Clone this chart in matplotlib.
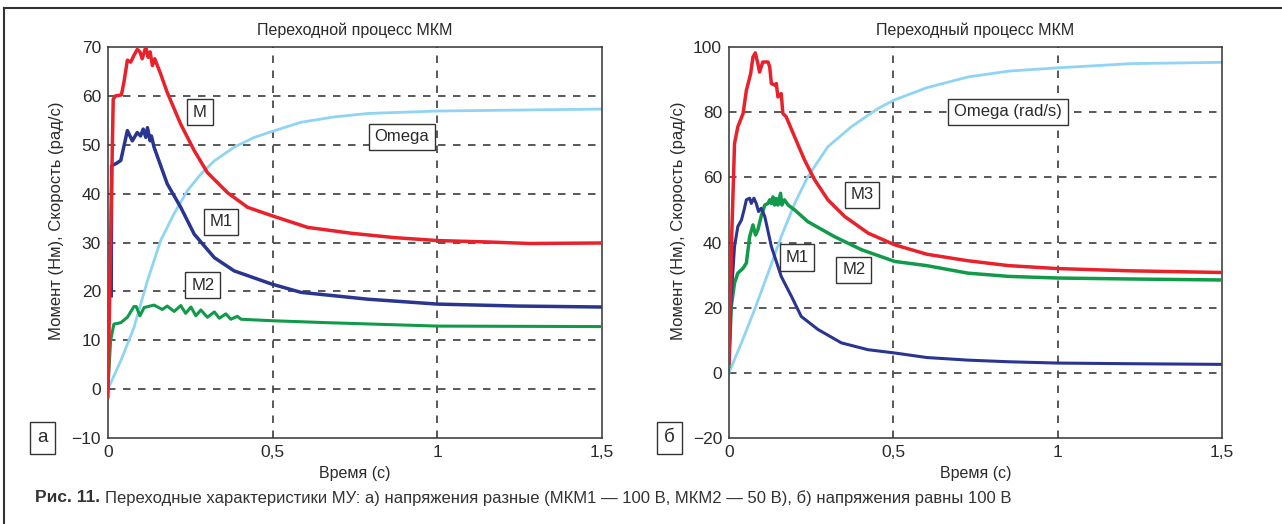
import matplotlib
matplotlib.use("Agg")
import matplotlib.pyplot as plt
from matplotlib.lines import Line2D

plt.rcParams['font.family'] = ['Liberation Sans', 'DejaVu Sans']

# ---------------- data: left panel (a) ----------------
t_a_M = [0, 0.008, 0.016, 0.023, 0.041, 0.049, 0.059, 0.069, 0.079, 0.089, 0.097, 0.104, 0.115, 0.122,
         0.128, 0.135, 0.142, 0.160, 0.180, 0.221, 0.262, 0.302, 0.363, 0.424, 0.497, 0.606, 0.738,
         0.870, 1.0, 1.158, 1.28, 1.5]
v_a_M = [-1.5, 30.0, 59.3, 60.0, 60.2, 63.0, 67.3, 66.9, 68.3, 69.5, 69.0, 67.6, 70.0, 67.9,
         69.0, 66.2, 67.6, 64.5, 60.7, 54.2, 48.8, 44.3, 40.2, 37.2, 35.5, 33.1, 31.9,
         31.0, 30.4, 30.1, 29.8, 29.9]

t_a_M1 = [0.010, 0.011, 0.026, 0.039, 0.059, 0.074, 0.089, 0.099, 0.107, 0.115, 0.120, 0.128, 0.132,
          0.140, 0.180, 0.221, 0.262, 0.323, 0.383, 0.497, 0.586, 0.789, 1.0, 1.244, 1.5]
v_a_M1 = [19.1, 45.7, 46.2, 46.8, 52.9, 50.8, 52.5, 51.8, 53.2, 51.5, 53.5, 50.8, 51.8,
          49.5, 42.0, 37.2, 31.7, 26.9, 24.2, 21.5, 19.8, 18.4, 17.4, 17.0, 16.8]

t_a_M2 = [0, 0.008, 0.018, 0.039, 0.059, 0.079, 0.086, 0.097, 0.110, 0.140, 0.165, 0.180, 0.201, 0.221,
          0.236, 0.252, 0.267, 0.282, 0.302, 0.323, 0.338, 0.358, 0.373, 0.393, 0.404, 0.497, 0.664,
          1.0, 1.5]
v_a_M2 = [0, 9.9, 13.3, 13.6, 14.7, 16.9, 16.9, 15.0, 16.7, 17.2, 16.3, 17.0, 15.9, 17.1,
          15.5, 16.8, 15.0, 16.2, 14.7, 15.8, 14.5, 15.4, 14.3, 14.9, 14.3, 14.0, 13.6,
          12.9, 12.8]

t_a_W = [0, 0.039, 0.079, 0.120, 0.160, 0.200, 0.241, 0.282, 0.323, 0.383, 0.444, 0.497, 0.586, 0.688,
         0.789, 1.0, 1.5]
v_a_W = [0, 5.8, 12.6, 22.2, 30.4, 35.8, 40.6, 44.0, 46.7, 49.5, 51.5, 52.7, 54.6, 55.7,
         56.4, 56.9, 57.3]

# ---------------- data: right panel (б) ----------------
t_b_M3 = [0, 0.009, 0.017, 0.027, 0.043, 0.053, 0.066, 0.073, 0.080, 0.088, 0.093, 0.103, 0.119, 0.124,
          0.129, 0.139, 0.144, 0.149, 0.159, 0.164, 0.174, 0.200, 0.230, 0.261, 0.301, 0.352, 0.423,
          0.504, 0.602, 0.727, 0.851, 1.0, 1.224, 1.5]
v_b_M3 = [3, 43.9, 70.4, 75.5, 79.6, 86.7, 91.8, 96.9, 98.2, 94.9, 92.3, 95.4, 95.4, 93.9,
          88.8, 88.3, 88.8, 84.7, 85.7, 79.6, 78.6, 72.4, 65.3, 59.2, 53.1, 48.0, 42.9,
          39.3, 36.4, 34.4, 32.9, 32.0, 31.3, 30.8]

t_b_M2 = [0, 0.007, 0.017, 0.027, 0.043, 0.053, 0.063, 0.073, 0.081, 0.088, 0.098, 0.109, 0.119, 0.124,
          0.129, 0.134, 0.139, 0.144, 0.149, 0.157, 0.161, 0.169, 0.180, 0.200, 0.240, 0.321, 0.403,
          0.504, 0.602, 0.727, 0.851, 1.0, 1.224, 1.5]
v_b_M2 = [2, 20.4, 27.6, 30.6, 32.1, 33.7, 41.8, 45.4, 42.3, 43.9, 48.0, 51.5, 52.0, 53.1,
          52.0, 54.0, 51.5, 53.5, 51.5, 55.1, 51.5, 53.1, 51.5, 50.0, 46.4, 41.8, 37.8,
          34.2, 32.9, 30.6, 29.6, 29.1, 28.8, 28.5]

t_b_M1 = [0, 0.007, 0.017, 0.027, 0.038, 0.046, 0.053, 0.063, 0.068, 0.076, 0.083, 0.090, 0.098, 0.109,
          0.129, 0.159, 0.190, 0.220, 0.271, 0.342, 0.423, 0.504, 0.602, 0.727, 0.851, 1.0, 1.224, 1.5]
v_b_M1 = [3, 23.5, 38.8, 44.9, 46.9, 50.0, 53.1, 53.6, 52.0, 53.6, 52.0, 49.5, 50.5, 48.0,
          38.8, 29.6, 23.5, 17.3, 13.3, 9.2, 7.1, 6.1, 4.7, 3.9, 3.4, 3.0, 2.8, 2.6]

t_b_W = [0, 0.038, 0.078, 0.119, 0.159, 0.200, 0.240, 0.301, 0.372, 0.453, 0.502, 0.602, 0.727, 0.851,
         1.0, 1.224, 1.5]
v_b_W = [0, 9.2, 19.4, 30.6, 41.8, 52.0, 60.2, 69.4, 75.5, 81.1, 83.7, 87.5, 90.8, 92.6,
         93.6, 94.9, 95.3]

x_ticks = [0, 0.5, 1, 1.5]
x_ticklabels = ["0", "0,5", "1", "1,5"]
yticks_a = [-10, 0, 10, 20, 30, 40, 50, 60, 70]
yticks_b = [-20, 0, 20, 40, 60, 80, 100]

RED = "#e8212b"
BLUE = "#2a3590"
GREEN = "#119a49"
SKY = "#8fd4f3"
GRID = "#3c3c3c"
TXT = "#2a2a2a"

fig = plt.figure(figsize=(12.82, 5.24), dpi=100)


def style_axes(ax, yticks, ylim, title):
    ax.set_xlim(0, 1.5)
    ax.set_ylim(*ylim)
    ax.set_xticks(x_ticks)
    ax.set_xticklabels(x_ticklabels)
    ax.set_yticks(yticks)
    ax.set_yticklabels([("\u2212" + str(abs(v))) if v < 0 else str(v) for v in yticks])
    ax.tick_params(length=0, labelsize=12.5, colors=TXT, pad=5)
    for s in ax.spines.values():
        s.set_color("#333333")
        s.set_linewidth(1.1)
    for x in x_ticks[1:-1]:
        ax.axvline(x, color=GRID, lw=1.2, ls=(0, (4.5, 4.5)), zorder=1)
    for y in yticks[1:-1]:
        ax.axhline(y, color=GRID, lw=1.2, ls=(0, (4.5, 4.5)), zorder=1)
    ax.set_title(title, fontsize=11.5, color=TXT, pad=9)
    ax.set_xlabel("Время (с)", fontsize=11.5, color=TXT, labelpad=4)
    ax.set_ylabel("Момент (Нм), Скорость (рад/с)", fontsize=12, color=TXT)
    ax.yaxis.set_label_coords(-0.088, 0.555)


def box(ax, x, y, s):
    ax.text(x, y, s, fontsize=12, color=TXT, ha="center", va="center", zorder=5,
            bbox=dict(boxstyle="square,pad=0.35", fc="white", ec="#333333", lw=1.0))


axA = fig.add_axes([0.0842, 0.1641, 0.3854, 0.7462])
style_axes(axA, yticks_a, (-10, 70), "Переходной процесс МКМ")
axA.plot(t_a_W, v_a_W, color=SKY, lw=2.0, zorder=2)
axA.plot(t_a_M2, v_a_M2, color=GREEN, lw=2.2, zorder=3)
axA.plot(t_a_M1, v_a_M1, color=BLUE, lw=2.5, zorder=3)
axA.plot(t_a_M, v_a_M, color=RED, lw=2.5, zorder=3)
box(axA, 0.279, 56.7, "M")
box(axA, 0.893, 51.6, "Omega")
box(axA, 0.343, 34.2, "M1")
box(axA, 0.288, 21.3, "M2")

axB = fig.add_axes([0.5686, 0.1641, 0.3846, 0.7462])
style_axes(axB, yticks_b, (-20, 100), "Переходный процесс МКМ")
axB.plot(t_b_W, v_b_W, color=SKY, lw=2.0, zorder=2)
axB.plot(t_b_M2, v_b_M2, color=GREEN, lw=2.5, zorder=3)
axB.plot(t_b_M1, v_b_M1, color=BLUE, lw=2.2, zorder=3)
axB.plot(t_b_M3, v_b_M3, color=RED, lw=2.5, zorder=3)
box(axB, 0.849, 80.1, "Omega (rad/s)")
box(axB, 0.405, 54.6, "M3")
box(axB, 0.207, 35.3, "M1")
box(axB, 0.380, 31.6, "M2")

# panel letters
for px, s in [(42.5, "а"), (669.5, "б")]:
    fig.text(px / 1282, 1 - 438 / 524, s, fontsize=13.5, color=TXT, ha="center", va="center",
             bbox=dict(boxstyle="square,pad=0.4", fc="white", ec="#333333", lw=1.0))

# outer frame (top and left)
fig.add_artist(Line2D([4 / 1282, 1.0], [1 - 8 / 524, 1 - 8 / 524], transform=fig.transFigure,
                      color="#333333", lw=1.5))
fig.add_artist(Line2D([4 / 1282, 4 / 1282], [0, 1 - 8 / 524], transform=fig.transFigure,
                      color="#333333", lw=1.5))

# caption
cap1 = fig.text(35 / 1282, 1 - 498 / 524, "Рис. 11.", fontsize=12.5, fontweight="bold",
                color="#333333", ha="left", va="center")
fig.canvas.draw()
r = fig.canvas.get_renderer()
bb = cap1.get_window_extent(r)
cap2 = fig.text((bb.x1 + 5) / 1282, 1 - 498 / 524,
                "Переходные характеристики МУ: а) напряжения разные (МКМ1 — 100 В, МКМ2 — 50 В), б) напряжения равны 100 В",
                fontsize=11.5, color="#333333", ha="left", va="center")
bb2 = cap2.get_window_extent(r)
cap2.set_fontsize(11.5 * (1015 - bb2.x0) / (bb2.x1 - bb2.x0))

fig.savefig("out.png", dpi=100)
